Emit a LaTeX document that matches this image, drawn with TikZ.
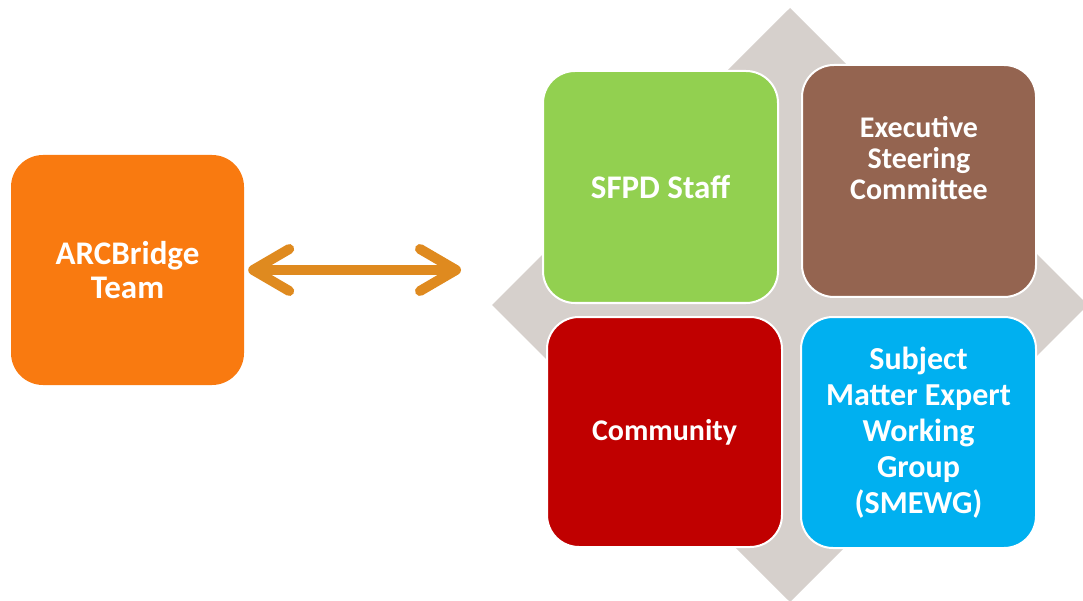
\documentclass[tikz,border=0pt]{standalone}
\usepackage{fontspec}
\setmainfont{Carlito}
\usetikzlibrary{arrows.meta}
\definecolor{cOrange}{HTML}{F97A10}
\definecolor{cArrow}{HTML}{DF8A1F}
\definecolor{cGreen}{HTML}{92D050}
\definecolor{cBrown}{HTML}{946450}
\definecolor{cRed}{HTML}{C00000}
\definecolor{cBlue}{HTML}{00B0F0}
\definecolor{cGray}{HTML}{D6D0CC}
\begin{document}
\begin{tikzpicture}[x=1pt,y=-1pt,
  box/.style={rounded corners=32pt, inner sep=0pt, align=center, text=white,
    font=\fontsize{30}{33}\selectfont\bfseries},
  quad/.style={box, draw=white, line width=2pt},
  lbl/.style={align=center, text=white, inner sep=0pt},
  link/.style={draw=cArrow, line width=10pt, line cap=round,
    {Straight Barb[length=36pt,width=42pt,line cap=round,round]}-{Straight Barb[length=36pt,width=42pt,line cap=round,round]}}
]
\useasboundingbox (0,0) rectangle (1083,601);
\clip (0,0) rectangle (1083,601);
% background diamond
\fill[cGray] (790,8) -- (1088,305) -- (790,602) -- (492,305) -- cycle;
% left box
\node[box, fill=cOrange, minimum width=233pt, minimum height=230pt,
      font=\fontsize{33}{34}\selectfont\bfseries] (arc) at (127.5,270) {ARCBridge\\Team};
% quadrant boxes
\node[quad, fill=cGreen, minimum width=235pt, minimum height=232pt,
      font=\fontsize{33}{34}\selectfont\bfseries] (sfpd) at (660.5,187) {SFPD Staff};
\node[quad, fill=cBrown, minimum width=234pt, minimum height=232pt] (esc) at (919,181) {};
\node[lbl, font=\fontsize{30}{31}\selectfont\bfseries] (escT) at (919,158) {Executive\\Steering\\Committee};
\node[quad, fill=cRed, minimum width=235pt, minimum height=230pt] (com) at (664.5,432) {Community};
\node[quad, fill=cBlue, minimum width=235pt, minimum height=231pt,
      font=\fontsize{32}{36}\selectfont\bfseries] (sme) at (918.5,432.5) {Subject\\Matter Expert\\Working\\Group\\(SMEWG)};
% connector
\coordinate (tipR) at (461,270);
\draw[link] ([xshift=4pt]arc.east) -- (tipR);
\end{tikzpicture}
\end{document}
